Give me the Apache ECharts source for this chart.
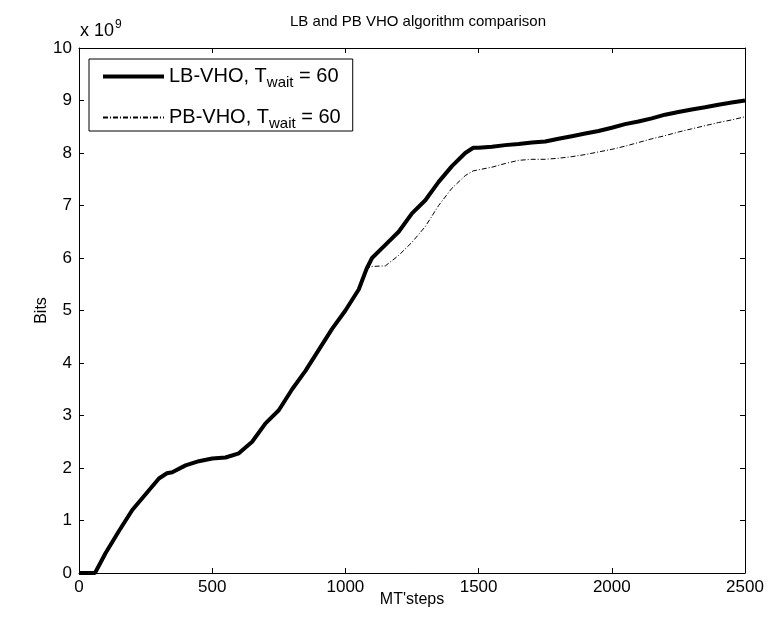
<!DOCTYPE html>
<html><head><meta charset="utf-8">
<script src="https://cdn.jsdelivr.net/npm/echarts@6/dist/echarts.min.js"></script>
<style>html,body{margin:0;padding:0;background:#fff}#c{width:769px;height:628px}</style>
</head><body><div id="c"></div>
<script>
const xs = [0,60,100,150,200,250,300,330,350,400,450,500,550,600,650,700,750,800,850,900,950,1000,1050,1080,1100,1150,1200,1250,1300,1350,1400,1450,1480,1500,1550,1600,1650,1700,1750,1800,1850,1900,1950,2000,2050,2100,2150,2200,2250,2300,2350,2400,2450,2500];
const lbVho = [0,0,0.38,0.8,1.2,1.5,1.8,1.9,1.92,2.05,2.13,2.18,2.2,2.28,2.5,2.85,3.1,3.5,3.85,4.25,4.65,5.0,5.4,5.8,6.0,6.25,6.5,6.85,7.1,7.45,7.75,8.0,8.1,8.1,8.12,8.15,8.17,8.2,8.22,8.27,8.32,8.37,8.42,8.48,8.55,8.6,8.66,8.73,8.78,8.83,8.87,8.92,8.96,9.0];
const pbVho = [0,0,0.38,0.8,1.2,1.5,1.8,1.9,1.92,2.05,2.13,2.18,2.2,2.28,2.5,2.85,3.1,3.5,3.85,4.25,4.65,5.0,5.4,5.8,5.84,5.85,6.05,6.3,6.6,7.0,7.33,7.57,7.66,7.68,7.73,7.8,7.86,7.88,7.88,7.9,7.93,7.97,8.02,8.07,8.13,8.2,8.27,8.33,8.4,8.46,8.52,8.58,8.63,8.69];
const seriesNames = ['LB-VHO', 'PB-VHO'];
const xTicks = {min: 0, max: 2500, interval: 500};
const yTicks = {min: 0, max: 10, interval: 1};

const FONT = 'Liberation Sans';
const chart = echarts.init(document.getElementById('c'), null, {renderer: 'canvas'});
const axisCommon = {
  axisLine: {show: true, onZero: false, lineStyle: {color: '#000', width: 1}},
  axisTick: {show: true, inside: true, length: 5, lineStyle: {color: '#000'}},
  splitLine: {show: false}
};
chart.setOption({
  animation: false,
  backgroundColor: '#fff',
  title: {text: 'LB and PB VHO algorithm comparison', left: 413, textAlign: 'center', top: 9,
    textStyle: {fontFamily: FONT, fontSize: 15, fontWeight: 'normal', color: '#000'}},
  grid: {left: 79, right: 24, top: 48, bottom: 55},
  legend: {
    left: 89, top: 59, orient: 'vertical', backgroundColor: '#fff',
    borderColor: '#000', borderWidth: 1, borderRadius: 0,
    padding: [4, 12, 0, 12], itemWidth: 61, itemHeight: 14, itemGap: 14,
    itemStyle: {opacity: 0},
    data: [{name: seriesNames[0], lineStyle: {width: 4}}, {name: seriesNames[1]}],
    formatter: n => n + ', T{sub|wait} = 60',
    textStyle: {fontFamily: FONT, fontSize: 20, lineHeight: 22, color: '#000',
      rich: {sub: {fontFamily: FONT, fontSize: 15, lineHeight: 16, padding: [12, 0, 0, 0], color: '#000'}}}
  },
  xAxis: [
    Object.assign({type: 'value', position: 'bottom', min: xTicks.min, max: xTicks.max, interval: xTicks.interval,
      name: "MT'steps", nameLocation: 'middle', nameGap: 19, nameMoveOverlap: false,
      nameTextStyle: {fontFamily: FONT, fontSize: 16, color: '#000'},
      axisLabel: {fontFamily: FONT, fontSize: 17, color: '#000', margin: 6, formatter: v => String(v)}}, axisCommon),
    Object.assign({type: 'value', position: 'top', min: xTicks.min, max: xTicks.max, interval: xTicks.interval,
      axisLabel: {show: false}}, axisCommon)
  ],
  yAxis: [
    Object.assign({type: 'value', position: 'left', min: yTicks.min, max: yTicks.max, interval: yTicks.interval,
      name: 'Bits', nameLocation: 'middle', nameGap: 29, nameRotate: 90, nameMoveOverlap: false,
      nameTextStyle: {fontFamily: FONT, fontSize: 16, color: '#000'},
      axisLabel: {fontFamily: FONT, fontSize: 17, color: '#000', margin: 7}}, axisCommon),
    Object.assign({type: 'value', position: 'right', min: yTicks.min, max: yTicks.max, interval: yTicks.interval,
      axisLabel: {show: false}}, axisCommon)
  ],
  graphic: [{
    type: 'text', left: 80, top: 19,
    style: {text: 'x 10{sup|9}', fontFamily: FONT, fontSize: 18, fill: '#000',
      rich: {sup: {fontFamily: FONT, fontSize: 12, padding: [0, 0, 12, 1], fill: '#000'}}}
  }],
  series: [
    {name: seriesNames[0], type: 'line', symbol: 'none', data: xs.map((x, i) => [x, lbVho[i]]),
      itemStyle: {color: '#000'}, lineStyle: {color: '#000', width: 4}, z: 3},
    {name: seriesNames[1], type: 'line', symbol: 'none', data: xs.map((x, i) => [x, pbVho[i]]),
      itemStyle: {color: '#000'}, lineStyle: {color: '#000', width: 1, type: [5, 2, 1, 2]}, z: 2}
  ]
});
</script></body></html>
